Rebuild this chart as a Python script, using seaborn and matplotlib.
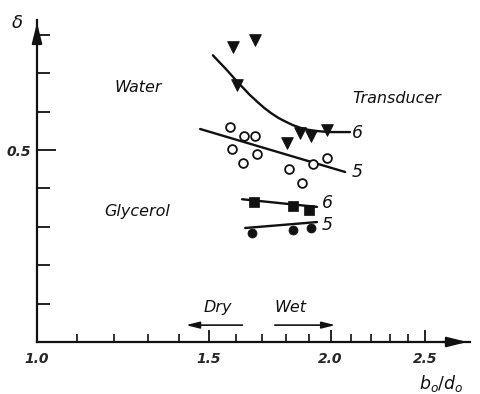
import numpy as np
import pandas as pd
import matplotlib
matplotlib.use("Agg")
import matplotlib.pyplot as plt
import seaborn as sns

# ---- data ----
tri_x = [1.589, 1.673, 1.604, 1.805, 1.861, 1.910, 1.983]
tri_y = [0.768, 0.786, 0.669, 0.518, 0.544, 0.536, 0.552]

circ_x = [1.577, 1.631, 1.673, 1.585, 1.681, 1.627, 1.813, 1.870, 1.919, 1.983]
circ_y = [0.560, 0.536, 0.536, 0.503, 0.490, 0.466, 0.451, 0.414, 0.464, 0.479]

sq_x = [1.670, 1.830, 1.901]
sq_y = [0.365, 0.354, 0.344]

dot_x = [1.662, 1.830, 1.910]
dot_y = [0.284, 0.292, 0.297]

# fitted curves
water6_x = [1.515, 1.537, 1.560, 1.583, 1.606, 1.630, 1.654, 1.682, 1.710, 1.739,
            1.768, 1.799, 1.830, 1.863, 1.897, 1.933, 1.970, 2.005, 2.040, 2.094]
water6_y = [0.747, 0.730, 0.713, 0.695, 0.677, 0.660, 0.643, 0.626, 0.610, 0.596,
            0.584, 0.574, 0.565, 0.558, 0.553, 0.550, 0.548, 0.547, 0.547, 0.547]

water5_x = [1.470, 2.070]
water5_y = [0.555, 0.443]

gly6_x = [1.623, 1.937]
gly6_y = [0.372, 0.352]

gly5_x = [1.635, 1.937]
gly5_y = [0.297, 0.3125]

x_ticks = [1.0, 1.5, 2.0, 2.5]
x_tick_labels = ["1.0", "1.5", "2.0", "2.5"]
x_minor = [1.1, 1.2, 1.3, 1.4, 1.6, 1.7, 1.8, 1.9, 2.1, 2.2, 2.3, 2.4]
y_ticks = [0.1, 0.2, 0.3, 0.4, 0.5, 0.6, 0.7, 0.8]

# ---- figure ----
sns.set_style("white")
plt.rcParams["font.family"] = ["DejaVu Sans"]
plt.rcParams["mathtext.fontset"] = "dejavusans"

fig = plt.figure(figsize=(4.8, 3.94), dpi=100)
ax = fig.add_axes([37/480, (394-342)/394, (470-37)/480, (342-20)/394])
ax.set_xscale("log")
ax.set_xlim(1.0, 2.78)
ax.set_ylim(0, 0.839)

k = "#111111"
sns.lineplot(x=water6_x, y=water6_y, ax=ax, color=k, lw=1.7, sort=False)
sns.lineplot(x=water5_x, y=water5_y, ax=ax, color=k, lw=1.7, sort=False)
sns.lineplot(x=gly6_x, y=gly6_y, ax=ax, color=k, lw=1.7, sort=False)
sns.lineplot(x=gly5_x, y=gly5_y, ax=ax, color=k, lw=1.7, sort=False)

sns.scatterplot(x=tri_x, y=tri_y, ax=ax, marker="v", s=70, color=k, edgecolor=k, zorder=5)
sns.scatterplot(x=circ_x, y=circ_y, ax=ax, marker="o", s=40, facecolor="white",
                edgecolor=k, linewidth=1.3, zorder=5)
sns.scatterplot(x=sq_x, y=sq_y, ax=ax, marker="s", s=42, color=k, edgecolor=k, zorder=5)
sns.scatterplot(x=dot_x, y=dot_y, ax=ax, marker="o", s=42, color=k, edgecolor=k, zorder=5)

# spines / ticks
for s in ["top", "right"]:
    ax.spines[s].set_visible(False)
for s in ["left", "bottom"]:
    ax.spines[s].set_linewidth(1.6)
    ax.spines[s].set_color(k)

ax.set_xticks(x_ticks)
ax.set_xticklabels(x_tick_labels)
ax.set_xticks(x_minor, minor=True)
ax.xaxis.set_minor_formatter(matplotlib.ticker.NullFormatter())
ax.tick_params(axis="x", which="major", bottom=True, direction="in", length=9, width=1.3,
               color=k, labelsize=10, pad=7)
ax.tick_params(axis="x", which="minor", bottom=True, direction="in", length=6, width=1.2,
               color=k)
ax.set_yticks(y_ticks)
ax.set_yticklabels(["" if v != 0.5 else "0.5" for v in y_ticks])
ax.tick_params(axis="y", which="major", left=True, direction="in", length=9, width=1.3,
               color=k, labelsize=10, pad=4)
ax.tick_params(axis="y", which="minor", left=False)
ax.yaxis.get_major_ticks()[4].tick1line.set_markersize(14)
for lab in ax.get_xticklabels() + ax.get_yticklabels():
    lab.set_fontstyle("italic")
    lab.set_fontweight("semibold")

# axis arrows
ax.annotate("", xy=(1.0, 0), xytext=(0.93, 0), xycoords="axes fraction",
            arrowprops=dict(arrowstyle="-|>,head_length=1.2,head_width=0.3", color=k, lw=1.6),
            annotation_clip=False)
ax.annotate("", xy=(0, 1.0), xytext=(0, 0.93), xycoords="axes fraction",
            arrowprops=dict(arrowstyle="-|>,head_length=1.2,head_width=0.3", color=k, lw=1.6),
            annotation_clip=False)

# texts
tk = dict(color=k, fontstyle="italic")
ax.text(1.269, 0.664, "Water", fontsize=11.5, ha="center", va="center", **tk)
ax.text(2.339, 0.635, "Transducer", fontsize=11.5, ha="center", va="center", **tk)
ax.text(1.266, 0.339, "Glycerol", fontsize=11.5, ha="center", va="center", **tk)
ax.text(2.104, 0.544, "6", fontsize=12.5, ha="left", va="center", **tk)
ax.text(2.100, 0.443, "5", fontsize=12.5, ha="left", va="center", **tk)
ax.text(1.959, 0.362, "6", fontsize=12.5, ha="left", va="center", **tk)
ax.text(1.959, 0.305, "5", fontsize=12.5, ha="left", va="center", **tk)

ax.text(1.533, 0.089, "Dry", fontsize=11.5, ha="center", va="center", **tk)
ax.text(1.821, 0.089, "Wet", fontsize=11.5, ha="center", va="center", **tk)
ax.annotate("", xy=(1.412, 0.044), xytext=(1.635, 0.044),
            arrowprops=dict(arrowstyle="-|>,head_length=0.8,head_width=0.2", color=k, lw=1.2))
ax.annotate("", xy=(2.036, 0.044), xytext=(1.742, 0.044),
            arrowprops=dict(arrowstyle="-|>,head_length=0.8,head_width=0.2", color=k, lw=1.2))

fig.text(17/480, 1 - 23/394, r"$\delta$", fontsize=13, ha="center", va="center", color=k)
fig.text(441/480, 1 - 383/394, r"$b_o/d_o$", fontsize=12.5, ha="center", va="center", color=k)

fig.savefig("out.png", dpi=100)
